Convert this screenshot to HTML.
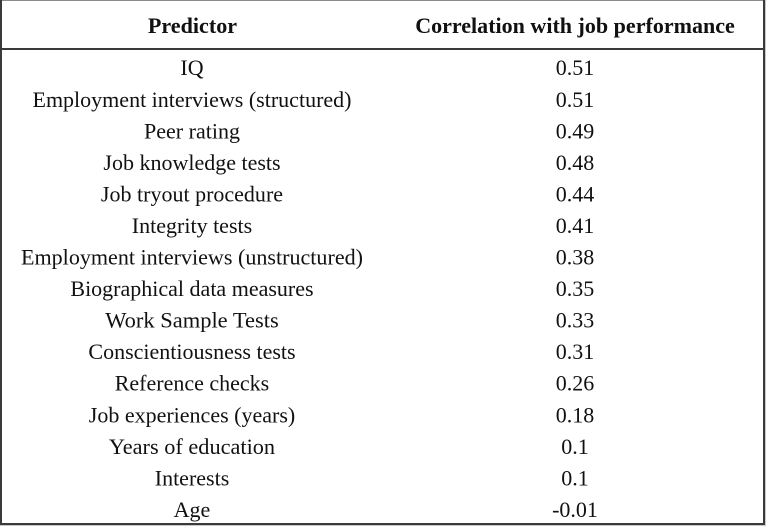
<!DOCTYPE html>
<html>
<head>
<meta charset="utf-8">
<style>
  html, body { margin: 0; padding: 0; background: #fff; }
  body { width: 768px; height: 531px; position: relative; overflow: hidden; }
  svg { position: absolute; left: 0; top: 0; }
  text { font-family: "Liberation Serif", "Times New Roman", "Tinos", "Noto Serif CJK SC", "DejaVu Serif", serif; font-size: 22px; fill: #111; }
  .b { font-weight: bold; }
</style>
</head>
<body>
<svg width="768" height="531" viewBox="0 0 768 531" xmlns="http://www.w3.org/2000/svg">
  <!-- borders -->
  <rect x="0" y="0" width="766" height="1" fill="#8a8a8a"/>
  <rect x="0" y="0" width="2" height="525" fill="#3a3a3a"/>
  <rect x="763" y="0" width="2" height="525" fill="#3a3a3a"/>
  <rect x="765" y="0" width="1" height="526" fill="#c8c8c8"/>
  <rect x="0" y="48" width="765" height="2" fill="#3a3a3a"/>
  <rect x="0" y="523" width="765" height="2" fill="#3a3a3a"/>
  <rect x="0" y="525" width="766" height="1" fill="#c8c8c8"/>

  <!-- header -->
  <text class="b" x="192.5" y="33" text-anchor="middle" textLength="89.2" lengthAdjust="spacingAndGlyphs">Predictor</text>
  <text class="b" x="575" y="33" text-anchor="middle" textLength="319.6" lengthAdjust="spacingAndGlyphs">Correlation with job performance</text>

  <!-- column 1 -->
  <g text-anchor="middle">
    <text x="192" y="75.2" textLength="23.2" lengthAdjust="spacingAndGlyphs">IQ</text>
    <text x="192" y="106.75" textLength="319" lengthAdjust="spacingAndGlyphs">Employment interviews (structured)</text>
    <text x="192" y="138.3" textLength="95.9" lengthAdjust="spacingAndGlyphs">Peer rating</text>
    <text x="192" y="169.85" textLength="177.2" lengthAdjust="spacingAndGlyphs">Job knowledge tests</text>
    <text x="192" y="201.4" textLength="182.1" lengthAdjust="spacingAndGlyphs">Job tryout procedure</text>
    <text x="192" y="232.95" textLength="120.4" lengthAdjust="spacingAndGlyphs">Integrity tests</text>
    <text x="192" y="264.5" textLength="342" lengthAdjust="spacingAndGlyphs">Employment interviews (unstructured)</text>
    <text x="192" y="296.05" textLength="243.2" lengthAdjust="spacingAndGlyphs">Biographical data measures</text>
    <text x="192" y="327.6" textLength="173.5" lengthAdjust="spacingAndGlyphs">Work Sample Tests</text>
    <text x="192" y="359.15" textLength="207.2" lengthAdjust="spacingAndGlyphs">Conscientiousness tests</text>
    <text x="192" y="390.7" textLength="154.5" lengthAdjust="spacingAndGlyphs">Reference checks</text>
    <text x="192" y="422.25" textLength="206.5" lengthAdjust="spacingAndGlyphs">Job experiences (years)</text>
    <text x="192" y="453.8" textLength="166.2" lengthAdjust="spacingAndGlyphs">Years of education</text>
    <text x="192" y="485.35" textLength="74.5" lengthAdjust="spacingAndGlyphs">Interests</text>
    <text x="192" y="516.9" textLength="36.7" lengthAdjust="spacingAndGlyphs">Age</text>
  </g>

  <!-- column 2 -->
  <g text-anchor="middle">
    <text x="575" y="75.2" textLength="38.5" lengthAdjust="spacingAndGlyphs">0.51</text>
    <text x="575" y="106.75" textLength="38.5" lengthAdjust="spacingAndGlyphs">0.51</text>
    <text x="575" y="138.3" textLength="38.5" lengthAdjust="spacingAndGlyphs">0.49</text>
    <text x="575" y="169.85" textLength="38.5" lengthAdjust="spacingAndGlyphs">0.48</text>
    <text x="575" y="201.4" textLength="38.5" lengthAdjust="spacingAndGlyphs">0.44</text>
    <text x="575" y="232.95" textLength="38.5" lengthAdjust="spacingAndGlyphs">0.41</text>
    <text x="575" y="264.5" textLength="38.5" lengthAdjust="spacingAndGlyphs">0.38</text>
    <text x="575" y="296.05" textLength="38.5" lengthAdjust="spacingAndGlyphs">0.35</text>
    <text x="575" y="327.6" textLength="38.5" lengthAdjust="spacingAndGlyphs">0.33</text>
    <text x="575" y="359.15" textLength="38.5" lengthAdjust="spacingAndGlyphs">0.31</text>
    <text x="575" y="390.7" textLength="38.5" lengthAdjust="spacingAndGlyphs">0.26</text>
    <text x="575" y="422.25" textLength="38.5" lengthAdjust="spacingAndGlyphs">0.18</text>
    <text x="575" y="453.8" textLength="27.5" lengthAdjust="spacingAndGlyphs">0.1</text>
    <text x="575" y="485.35" textLength="27.5" lengthAdjust="spacingAndGlyphs">0.1</text>
    <text x="575" y="516.9" textLength="45.8" lengthAdjust="spacingAndGlyphs">-0.01</text>
  </g>
</svg>
</body>
</html>
